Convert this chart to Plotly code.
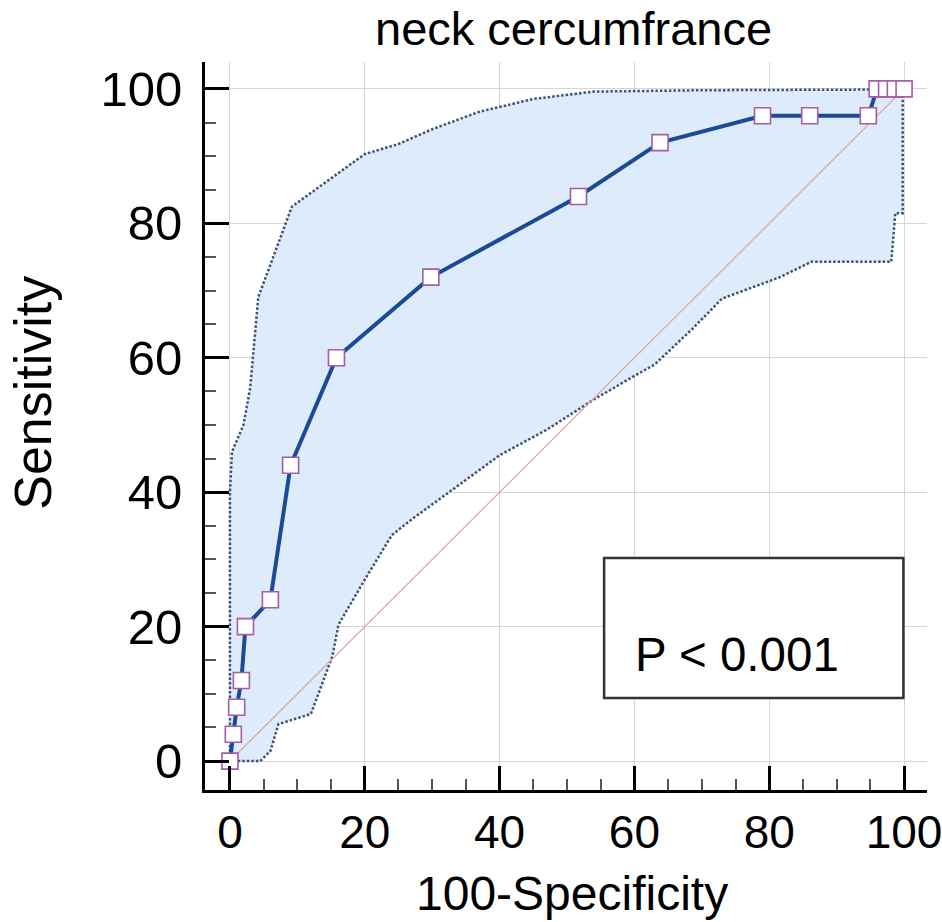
import plotly.graph_objects as go

# ROC curve points (100-Specificity, Sensitivity)
roc_x = [0, 0.5, 1.0, 1.7, 2.3, 6.0, 9.0, 15.8, 29.8, 51.7, 63.8, 79.0, 86.0, 94.7, 96.0, 97.4, 98.7, 100]
roc_y = [0, 4, 8, 12, 20, 24, 44, 60, 72, 84, 92, 96, 96, 96, 100, 100, 100, 100]

# Upper confidence bound
ci_up_x = [0, 0, 0.3, 2.0, 3.0, 4.2, 9.2, 20, 25, 30, 37, 45, 54, 70, 95, 100]
ci_up_y = [0, 40, 46, 50, 55.5, 69, 82.5, 90.3, 91.8, 94.0, 96.6, 98.5, 99.6, 99.8, 99.9, 100]

# Lower confidence bound
ci_lo_x = [0, 4.5, 6.0, 7.2, 12.0, 15.2, 16.1, 20, 24, 27, 32.5, 40, 47, 54, 60, 63, 68.5, 73, 81.6, 86.3, 98.1, 98.7, 99.8, 99.8]
ci_lo_y = [0, 0, 1.5, 5.5, 7.0, 15.6, 20.3, 27, 33.6, 36, 40, 45.5, 49.3, 53.8, 57.3, 59, 64.2, 68.8, 72, 74.3, 74.3, 81.5, 81.5, 100]

# Reference diagonal
diag_x = [0, 100]
diag_y = [0, 100]

title_text = "neck cercumfrance"
x_title = "100-Specificity"
y_title = "Sensitivity"
p_text = "P < 0.001"
tick_vals = [0, 20, 40, 60, 80, 100]

FONT = "Liberation Sans, Arial, sans-serif"

band_x = ci_up_x + ci_lo_x[::-1]
band_y = ci_up_y + ci_lo_y[::-1]

fig = go.Figure()
fig.add_trace(go.Scatter(
    x=band_x, y=band_y, mode="lines", fill="toself",
    fillcolor="rgb(221,235,250)",
    line=dict(color="#3d5370", width=2.5, dash="2.5px,2px"),
    hoverinfo="skip", showlegend=False,
))
fig.add_trace(go.Scatter(
    x=diag_x, y=diag_y, mode="lines",
    line=dict(color="#d8a4a4", width=1.2),
    hoverinfo="skip", showlegend=False,
))
fig.add_trace(go.Scatter(
    x=roc_x, y=roc_y, mode="lines+markers",
    line=dict(color="#1b4b95", width=4),
    marker=dict(symbol="square", size=16, color="white",
                line=dict(color="#a25ea6", width=1.6)),
    cliponaxis=False, showlegend=False,
))

axis_common = dict(
    tickvals=tick_vals,
    ticks="inside", ticklen=24, tickwidth=3, tickcolor="black",
    showline=True, linecolor="black", linewidth=3,
    showgrid=True, gridcolor="#d6d6d6", gridwidth=1,
    zeroline=False, mirror=False, automargin=False,
    ticklabeloverflow="allow",
    minor=dict(dtick=5, ticks="inside", ticklen=11, tickwidth=1.5,
               tickcolor="#555555", showgrid=False),
)

fig.update_xaxes(range=[-3.7, 103.4], tickfont=dict(family=FONT, size=46, color="black"),
                 **axis_common)
fig.update_yaxes(range=[-4.3, 104], ticklabelstandoff=10,
                 tickfont=dict(family=FONT, size=49, color="black"), **axis_common)

fig.add_shape(type="rect", xref="x", yref="y", x0=55.5, x1=99.9, y0=9.4, y1=30.2,
              line=dict(color="#333333", width=2.5), fillcolor="white", layer="above")

fig.add_annotation(x=75.2, y=15.8, xref="x", yref="y", text=p_text, showarrow=False,
                   font=dict(family=FONT, size=47.5, color="black"), xanchor="center", yanchor="middle")

fig.add_annotation(x=0.5097, y=1.0852, xref="paper", yref="paper", text=title_text, showarrow=False,
                   font=dict(family=FONT, size=47, color="black"), xanchor="center", yanchor="top")
fig.add_annotation(x=0.508, y=-0.1415, xref="paper", yref="paper", text=x_title, showarrow=False,
                   font=dict(family=FONT, size=48, color="black"), xanchor="center", yanchor="middle")
fig.add_annotation(x=-0.2375, y=0.545, xref="paper", yref="paper", text=y_title, showarrow=False,
                   textangle=-90,
                   font=dict(family=FONT, size=52, color="black"), xanchor="center", yanchor="middle")

fig.update_layout(
    width=942, height=922,
    margin=dict(l=205, r=15, t=62, b=132),
    paper_bgcolor="white", plot_bgcolor="white",
    showlegend=False,
)

fig.write_html("out.html", config={"displayModeBar": False},
               post_script="document.body.style.margin='0';document.body.style.overflow='hidden';")
